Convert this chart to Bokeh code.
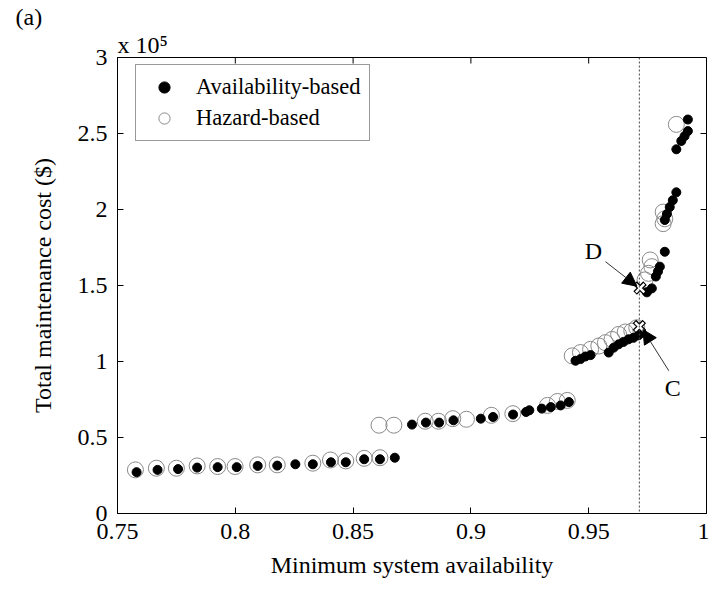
from bokeh.plotting import figure
from bokeh.models import (Span, Label, Arrow, NormalHead, FixedTicker,
                          Legend, LegendItem, Range1d, Title)
from bokeh.embed import file_html
from bokeh.resources import INLINE

# ---------------- data ----------------
avail_x = [0.7581, 0.7670, 0.7757, 0.7838, 0.7925, 0.8006, 0.8095, 0.8178, 0.8255, 0.8329,
           0.8406, 0.8469, 0.8547, 0.8614, 0.8677,
           0.8750, 0.8809, 0.8865, 0.8926, 0.9042, 0.9094, 0.9179, 0.9234, 0.9248, 0.9301,
           0.9339, 0.9381, 0.9416,
           0.9444, 0.9465, 0.9486, 0.9508, 0.9585, 0.9606, 0.9627, 0.9648, 0.9669, 0.9690,
           0.9711, 0.9725,
           0.9747, 0.9768, 0.9785, 0.9794, 0.9802, 0.9823,
           0.9823, 0.9832, 0.9844, 0.9857, 0.9872,
           0.9872, 0.9893, 0.9907, 0.9921, 0.9921]
avail_y = [27200, 28700, 29200, 30200, 30500, 30500, 31300, 31500, 32400, 32400,
           33700, 33700, 35700, 35700, 36700,
           58500, 59800, 59800, 61300, 62400, 63500, 65100, 66800, 67900, 69000,
           70000, 71100, 73300,
           100500, 101600, 103300, 104200, 105900, 109100, 111300, 112900, 114600, 115600,
           117200, 118900,
           145500, 148100, 155900, 159200, 162400, 172200,
           193100, 197000, 201600, 206100, 211300,
           239600, 245100, 248300, 251600, 259200]

hazard_x = [0.7576, 0.7665, 0.7750, 0.7838, 0.7925, 0.7999, 0.8095, 0.8178, 0.8329, 0.8404,
            0.8469, 0.8547, 0.8614,
            0.8610, 0.8673, 0.8806, 0.8862, 0.8923, 0.8981, 0.9087, 0.9178, 0.9325, 0.9367,
            0.9409,
            0.9430, 0.9465, 0.9508, 0.9543, 0.9571, 0.9599, 0.9627, 0.9655, 0.9683, 0.9704,
            0.9739, 0.9754, 0.9768, 0.9761,
            0.9816, 0.9823, 0.9816, 0.9872]
hazard_y = [28700, 29800, 29800, 31300, 30900, 30900, 32000, 32000, 33100, 35200,
            34600, 36300, 36700,
            58100, 58100, 60700, 60700, 62400, 62000, 64600, 65700, 71100, 73700,
            74400,
            103700, 105900, 108000, 110200, 112400, 114500, 117800, 119400, 120000, 122200,
            153700, 158000, 162400, 166800,
            190700, 193900, 198300, 256000]

point_C = (0.9715, 123000)
point_D = (0.9718, 148300)
threshold_x = 0.9715

x_ticks = [0.75, 0.8, 0.85, 0.9, 0.95, 1.0]
x_tick_labels = ["0.75", "0.8", "0.85", "0.9", "0.95", "1"]
y_ticks = [0, 50000, 100000, 150000, 200000, 250000, 300000]
y_tick_labels = ["0", "0.5", "1", "1.5", "2", "2.5", "3"]

FONT = "Liberation Serif"
X0, X1 = 0.75, 1.0
Y0, Y1 = 0, 300000
FW, FH = 589, 456          # frame size in px
TICK = 6                   # inward tick length in px

# ---------------- figure ----------------
p = figure(frame_width=FW, frame_height=FH, output_backend="svg", toolbar_location=None,
           x_range=Range1d(X0, X1), y_range=Range1d(Y0, Y1),
           min_border_left=117, min_border_right=3, min_border_top=57, min_border_bottom=76)
p.outline_line_color = "black"
p.outline_line_width = 1
p.grid.visible = False
p.background_fill_color = "white"
p.border_fill_color = "white"

for ax in (p.xaxis[0], p.yaxis[0]):
    ax.axis_line_color = "black"
    ax.major_tick_in = TICK
    ax.major_tick_out = 0
    ax.minor_tick_line_color = None
    ax.major_tick_line_color = "black"
    ax.major_label_text_font = FONT
    ax.major_label_text_font_size = "24px"
    ax.major_label_text_color = "black"
    ax.axis_label_text_font = FONT
    ax.axis_label_text_font_size = "24px"
    ax.axis_label_text_font_style = "normal"
    ax.axis_label_text_color = "black"

p.xaxis.ticker = FixedTicker(ticks=x_ticks)
p.xaxis.major_label_overrides = dict(zip(x_ticks, x_tick_labels))
p.yaxis.ticker = FixedTicker(ticks=y_ticks)
p.yaxis.major_label_overrides = dict(zip(y_ticks, y_tick_labels))
p.xaxis.major_label_standoff = 10
p.yaxis.major_label_standoff = 10
p.xaxis.axis_label = "Minimum system availability"
p.yaxis.axis_label = "Total maintenance cost ($)"
p.xaxis.axis_label_standoff = 10
p.yaxis.axis_label_standoff = 19

# inward ticks on the top and right edges (box on)
dx = TICK * (X1 - X0) / FW
dy = TICK * (Y1 - Y0) / FH
p.segment(x0=x_ticks, y0=[Y1] * len(x_ticks), x1=x_ticks, y1=[Y1 - dy] * len(x_ticks),
          line_color="black", line_width=1)
p.segment(x0=[X1] * len(y_ticks), y0=y_ticks, x1=[X1 - dx] * len(y_ticks), y1=y_ticks,
          line_color="black", line_width=1)

# exponent and panel label (as titles in the top border)
p.add_layout(Title(text="x 10\u2075", align="left", offset=0, standoff=0,
                   text_font=FONT, text_font_size="24px", text_font_style="normal",
                   text_color="black"), "above")
p.add_layout(Title(text="(a)", align="left", offset=-102, standoff=0,
                   text_font=FONT, text_font_size="24px", text_font_style="normal",
                   text_color="black"), "above")

# threshold line
p.add_layout(Span(location=threshold_x, dimension="height", line_color="#444444",
                  line_dash="2 2", line_width=1))

# points
r_haz = p.scatter(hazard_x, hazard_y, marker="circle", size=16, fill_color=None,
                  line_color="#8a8a8a", line_width=1)
r_av = p.scatter(avail_x, avail_y, marker="circle", size=9, fill_color="black",
                 line_color="black")

# C and D markers
for (px, py) in (point_C, point_D):
    p.scatter([px], [py], marker="x", size=14, line_color="black", line_width=5)
    p.scatter([px], [py], marker="x", size=12, line_color="white", line_width=2.5)

# arrows
head = dict(size=14, fill_color="black", line_color="black")
p.add_layout(Arrow(end=NormalHead(**head), x_start=0.9571, y_start=165700,
                   x_end=0.9705, y_end=149500, line_color="#333333", line_width=1))
p.add_layout(Arrow(end=NormalHead(**head), x_start=0.9840, y_start=93900,
                   x_end=0.9730, y_end=121000, line_color="#333333", line_width=1))
p.add_layout(Label(x=0.9520, y=172900, text="D", text_font=FONT, text_font_size="24px",
                   text_align="center", text_baseline="middle", text_color="black"))
p.add_layout(Label(x=0.9857, y=82800, text="C", text_font=FONT, text_font_size="24px",
                   text_align="center", text_baseline="middle", text_color="black"))

# legend
legend = Legend(items=[LegendItem(label="Availability-based", renderers=[r_av]),
                       LegendItem(label="Hazard-based", renderers=[r_haz])],
                location=(18, 372), label_text_font=FONT, label_text_font_size="22.5px",
                glyph_width=40, glyph_height=28, label_height=28, label_standoff=12,
                spacing=3, padding=8, border_line_color="#333333", border_line_width=1,
                background_fill_alpha=1.0, label_text_color="black")
p.add_layout(legend, "center")

open("out.html", "w").write(file_html(p, INLINE))
